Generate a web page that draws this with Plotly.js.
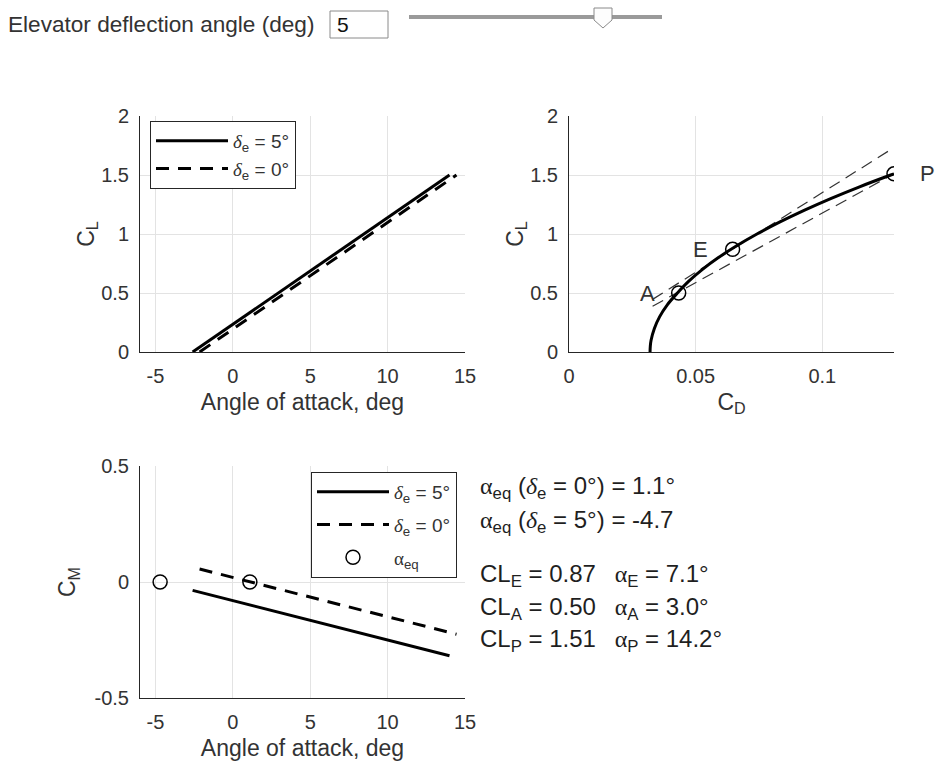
<!DOCTYPE html>
<html>
<head>
<meta charset="utf-8">
<script src="https://cdn.plot.ly/plotly-3.0.1.min.js"></script>
<style>
  html, body { margin: 0; padding: 0; background: #fff; }
  #chart { width: 941px; height: 766px; }
</style>
</head>
<body>
<div id="chart"></div>
<script>
// ---- data ----
const alphaDe5 = [-2.6, 14.0];
const alphaDe0 = [-2.15, 14.45];
const clDe5 = [0, 1.50];
const clDe0 = [0, 1.50];
const cmDe5 = [-0.036, -0.318];
const cmDe0 = [0.056, -0.225];
const alphaEq = [-4.7, 1.1];
const cmEq = [0, 0];

const polarCL = [0, 0.05, 0.1, 0.2, 0.3, 0.4, 0.5, 0.6, 0.7, 0.8, 0.9, 1.0, 1.1, 1.2, 1.3, 1.4, 1.5, 1.51];
const polarCD = [0.0320, 0.0321, 0.0324, 0.0337, 0.0358, 0.0388, 0.0428, 0.0473, 0.0527, 0.0590, 0.0662, 0.0742, 0.0831, 0.0928, 0.1033, 0.1147, 0.1270, 0.1283];

const pointLabels = ['A', 'E', 'P'];
const pointCD = [0.0433, 0.0646, 0.1283];
const pointCL = [0.50, 0.87, 1.51];

const tangentCD = [0.033, 0.127];
const tangentUpperCL = [0.446, 1.715];
const tangentLowerCL = [0.388, 1.495];

const alphaTickVals = [-5, 0, 5, 10, 15];
const alphaTickText = ['-5', '0', '5', '10', '15'];
const clTickVals = [0, 0.5, 1, 1.5, 2];
const clTickText = ['0', '0.5', '1', '1.5', '2'];
const cdTickVals = [0, 0.05, 0.1];
const cdTickText = ['0', '0.05', '0.1'];
const cmTickVals = [-0.5, 0, 0.5];
const cmTickText = ['-0.5', '0', '0.5'];

const ALPHA = '<span style="font-family:Liberation Serif">α</span>';
const DELTA = '<i style="font-family:Liberation Serif">δ</i>';
const resultLines = [
  ALPHA + '<sub>eq</sub> (' + DELTA + '<sub>e</sub> = 0°) = 1.1°',
  ALPHA + '<sub>eq</sub> (' + DELTA + '<sub>e</sub> = 5°) = -4.7',
  'CL<sub>E</sub> = 0.87\u2002 ' + ALPHA + '<sub>E</sub> = 7.1°',
  'CL<sub>A</sub> = 0.50\u2002 ' + ALPHA + '<sub>A</sub> = 3.0°',
  'CL<sub>P</sub> = 1.51\u2002 ' + ALPHA + '<sub>P</sub> = 14.2°'
];
const resultY = [487, 521, 575, 608, 640];

// ---- styles ----
const W = 941, H = 766;
const px = v => v / W;
const py = v => 1 - v / H;
const FONT = 'Liberation Sans, Arial, sans-serif';
const AX = '#262626';
const TXT = '#333333';
const GRID = '#e3e3e3';
const dashThick = '13px,9px';
const deLabel5 = DELTA + '<sub>e</sub> = 5°';
const deLabel0 = DELTA + '<sub>e</sub> = 0°';

function axisBase(domain, range, tv, tt) {
  return {
    domain: domain, range: range, tickvals: tv, ticktext: tt,
    showline: true, linecolor: AX, linewidth: 1, mirror: false,
    showgrid: true, gridcolor: GRID, gridwidth: 1, zeroline: false,
    ticks: '', ticklabelstandoff: 6,
    tickfont: { family: FONT, size: 20, color: TXT },
    fixedrange: true
  };
}

const traces = [
  { x: alphaDe5, y: clDe5, xaxis: 'x', yaxis: 'y', mode: 'lines', name: deLabel5,
    line: { color: '#000', width: 3 }, legend: 'legend', legendgroup: 'a1' },
  { x: alphaDe0, y: clDe0, xaxis: 'x', yaxis: 'y', mode: 'lines', name: deLabel0,
    line: { color: '#000', width: 3, dash: dashThick }, legend: 'legend', legendgroup: 'a2' },

  { x: tangentCD, y: tangentUpperCL, xaxis: 'x2', yaxis: 'y2', mode: 'lines', showlegend: false,
    line: { color: '#333', width: 1.2, dash: '12px,7px' } },
  { x: tangentCD, y: tangentLowerCL, xaxis: 'x2', yaxis: 'y2', mode: 'lines', showlegend: false,
    line: { color: '#333', width: 1.2, dash: '12px,7px' } },
  { x: polarCD, y: polarCL, xaxis: 'x2', yaxis: 'y2', mode: 'lines', showlegend: false,
    line: { color: '#000', width: 3, shape: 'spline' } },
  { x: pointCD, y: pointCL, xaxis: 'x2', yaxis: 'y2', mode: 'markers', showlegend: false,
    marker: { symbol: 'circle-open', size: 14, color: '#000', line: { width: 1.5, color: '#000' } } },

  { x: alphaDe5, y: cmDe5, xaxis: 'x3', yaxis: 'y3', mode: 'lines', name: deLabel5,
    line: { color: '#000', width: 3 }, legend: 'legend2', legendgroup: 'b1' },
  { x: alphaDe0, y: cmDe0, xaxis: 'x3', yaxis: 'y3', mode: 'lines', name: deLabel0,
    line: { color: '#000', width: 3, dash: dashThick }, legend: 'legend2', legendgroup: 'b2' },
  { x: alphaEq, y: cmEq, xaxis: 'x3', yaxis: 'y3', mode: 'markers',
    name: ALPHA + '<sub>eq</sub>',
    marker: { symbol: 'circle-open', size: 14, color: '#000', line: { width: 1.5, color: '#000' } },
    legend: 'legend2', legendgroup: 'b3' }
];

const topDom = [py(352), py(116)];
const botDom = [py(698), py(466)];

const titleFont = { family: FONT, size: 23, color: TXT };

const layout = {
  width: W, height: H,
  margin: { l: 0, r: 0, t: 0, b: 0 },
  paper_bgcolor: '#fff', plot_bgcolor: '#fff',
  font: { family: FONT, color: TXT },
  hovermode: false,
  xaxis: Object.assign(axisBase([px(140), px(465)], [-6, 15], alphaTickVals, alphaTickText),
    { anchor: 'y', title: { text: 'Angle of attack, deg', font: titleFont, standoff: 7 } }),
  yaxis: Object.assign(axisBase(topDom, [0, 2], clTickVals, clTickText),
    { anchor: 'x', title: { text: 'C<sub>L</sub>', font: titleFont, standoff: 0 } }),
  xaxis2: Object.assign(axisBase([px(569), px(894)], [0, 0.1283], cdTickVals, cdTickText),
    { anchor: 'y2', title: { text: 'C<sub>D</sub>', font: titleFont, standoff: 7 } }),
  yaxis2: Object.assign(axisBase(topDom, [0, 2], clTickVals, clTickText),
    { anchor: 'x2', title: { text: 'C<sub>L</sub>', font: titleFont, standoff: 0 } }),
  xaxis3: Object.assign(axisBase([px(140), px(465)], [-6, 15], alphaTickVals, alphaTickText),
    { anchor: 'y3', title: { text: 'Angle of attack, deg', font: titleFont, standoff: 7 } }),
  yaxis3: Object.assign(axisBase(botDom, [-0.5, 0.5], cmTickVals, cmTickText),
    { anchor: 'x3', title: { text: 'C<sub>M</sub>', font: titleFont, standoff: 12 } }),
  legend: {
    x: px(150), y: py(121), xanchor: 'left', yanchor: 'top',
    bgcolor: '#fff', bordercolor: '#262626', borderwidth: 1,
    font: { family: FONT, size: 19, color: TXT },
    itemwidth: 72, traceorder: 'grouped', tracegroupgap: 0
  },
  legend2: {
    x: px(311), y: py(472), xanchor: 'left', yanchor: 'top',
    bgcolor: '#fff', bordercolor: '#262626', borderwidth: 1,
    font: { family: FONT, size: 19, color: TXT },
    itemwidth: 72, traceorder: 'grouped', tracegroupgap: 5
  },
  annotations: [],
  shapes: []
};

// point labels on the drag polar
const labelShift = { A: [-31, 0], E: [-32, 0], P: [33, 0] };
pointLabels.forEach((lab, i) => {
  layout.annotations.push({
    xref: 'x2', yref: 'y2', x: pointCD[i], y: pointCL[i], text: lab, showarrow: false,
    xshift: labelShift[lab][0], yshift: labelShift[lab][1],
    font: { family: FONT, size: 22, color: TXT }
  });
});

// result text block
resultLines.forEach((t, i) => {
  layout.annotations.push({
    xref: 'paper', yref: 'paper', x: px(478), y: py(resultY[i]), xanchor: 'left', yanchor: 'middle',
    text: t, showarrow: false, align: 'left',
    font: { family: FONT, size: 24, color: '#1f1f1f' }
  });
});

// top control row: label, value box, slider
layout.annotations.push({
  xref: 'paper', yref: 'paper', x: px(6), y: py(24), xanchor: 'left', yanchor: 'middle',
  text: 'Elevator deflection angle (deg)', showarrow: false,
  font: { family: FONT, size: 22.6, color: '#333' }
});
layout.shapes.push({
  type: 'rect', xref: 'paper', yref: 'paper', x0: px(330), x1: px(388), y0: py(38), y1: py(11),
  line: { color: '#8a8a8a', width: 1 }, fillcolor: '#fff'
});
layout.annotations.push({
  xref: 'paper', yref: 'paper', x: px(335), y: py(24), xanchor: 'left', yanchor: 'middle',
  text: '5', showarrow: false, font: { family: FONT, size: 21, color: '#111' }
});
layout.shapes.push({
  type: 'line', xref: 'paper', yref: 'paper', x0: px(409), x1: px(662), y0: py(17), y1: py(17),
  line: { color: '#9a9a9a', width: 4 }
});
layout.shapes.push({
  type: 'path', xref: 'paper', yref: 'paper',
  path: 'M ' + px(594) + ' ' + py(8) + ' L ' + px(612) + ' ' + py(8) + ' L ' + px(612) + ' ' + py(20) +
        ' L ' + px(603) + ' ' + py(28) + ' L ' + px(594) + ' ' + py(20) + ' Z',
  line: { color: '#8a8a8a', width: 1 }, fillcolor: '#fdfdfd'
});

Plotly.newPlot('chart', traces, layout, { staticPlot: true, displayModeBar: false });
</script>
</body>
</html>
